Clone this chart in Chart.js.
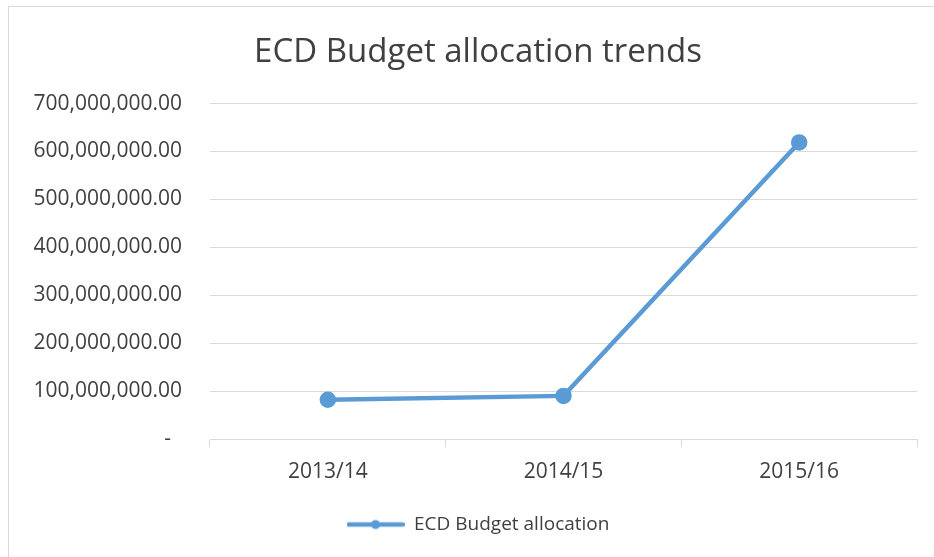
<!DOCTYPE html>
<html>
<head>
<meta charset="utf-8">
<script src="https://cdn.jsdelivr.net/npm/chart.js@4.4.1/dist/chart.umd.min.js"></script>
<style>
  html, body { margin: 0; padding: 0; background: #fff; overflow: hidden; }
  #frame { position: absolute; left: 8px; top: 6px; width: 1000px; height: 1000px; border: 1px solid #d9d9d9; box-sizing: border-box; }
  #wrap { position: absolute; left: 0; top: 0; width: 934px; height: 557px; }
</style>
</head>
<body>
<div id="frame"></div>
<div id="wrap"><canvas id="c"></canvas></div>
<script>
const categories = ['2013/14', '2014/15', '2015/16'];
const seriesName = 'ECD Budget allocation';
const allocation = [82000000, 90000000, 619000000];
const yMin = 0;
const yMax = 700000000;
const yStep = 100000000;
const titleText = 'ECD Budget allocation trends';

const lineColor = '#5b9bd5';
const textColor = '#404040';
const gridColor = '#d9d9d9';
const fontFamily = "'Open Sans', 'Liberation Sans', sans-serif";

// legend marker: line with a dot
const marker = document.createElement('canvas');
marker.width = 58; marker.height = 12;
(function () {
  const m = marker.getContext('2d');
  m.strokeStyle = lineColor; m.lineWidth = 4.5; m.lineCap = 'round';
  m.beginPath(); m.moveTo(2, 6); m.lineTo(56, 6); m.stroke();
  m.fillStyle = lineColor;
  m.beginPath(); m.arc(29, 6, 4.5, 0, Math.PI * 2); m.fill();
})();

function fmt(v) {
  if (v === 0) return '-  ';
  return v.toLocaleString('en-US', { minimumFractionDigits: 2, maximumFractionDigits: 2 });
}

new Chart(document.getElementById('c'), {
  type: 'line',
  data: {
    labels: categories,
    datasets: [{
      label: seriesName,
      data: allocation,
      borderColor: lineColor,
      backgroundColor: lineColor,
      borderWidth: 4.5,
      pointRadius: 6,
      pointHoverRadius: 6,
      pointBackgroundColor: lineColor,
      pointBorderColor: lineColor,
      pointStyle: 'circle',
      tension: 0
    }]
  },
  options: {
    responsive: true,
    maintainAspectRatio: false,
    animation: false,
    layout: { padding: { left: 39, right: 17, top: 0, bottom: 13 } },
    plugins: {
      title: {
        display: true,
        text: titleText,
        color: textColor,
        font: { family: fontFamily, size: 33, weight: 'normal' },
        padding: { top: 33, bottom: 31 }
      },
      legend: {
        display: true,
        position: 'bottom',
        labels: {
          usePointStyle: true,
          pointStyle: marker,
          pointStyleWidth: 58,
          boxHeight: 12,
          color: textColor,
          font: { family: fontFamily, size: 19 },
          padding: 8,
          generateLabels: (chart) => [{
            text: seriesName,
            pointStyle: marker,
            fillStyle: lineColor,
            strokeStyle: lineColor,
            lineWidth: 0,
            fontColor: textColor,
            datasetIndex: 0
          }]
        }
      },
      tooltip: { enabled: false }
    },
    scales: {
      x: {
        offset: true,
        afterFit: (scale) => { scale.height = 68; },
        grid: { display: true, offset: true, drawOnChartArea: false, drawTicks: true, tickLength: 8, color: gridColor },
        border: { display: true, color: gridColor, width: 1 },
        ticks: { color: textColor, font: { family: fontFamily, size: 21 }, padding: 12 }
      },
      y: {
        min: yMin,
        max: yMax,
        afterFit: (scale) => {
          scale.width = 171;
          // let the long tick labels extend past the scale's left edge
          scale._computeLabelArea = () => undefined;
        },
        grid: { color: gridColor, drawTicks: false, lineWidth: 1 },
        border: { display: false },
        ticks: {
          stepSize: yStep,
          color: textColor,
          font: { family: fontFamily, size: 21 },
          padding: 28,
          callback: (v) => fmt(v)
        }
      }
    }
  }
});
</script>
</body>
</html>
